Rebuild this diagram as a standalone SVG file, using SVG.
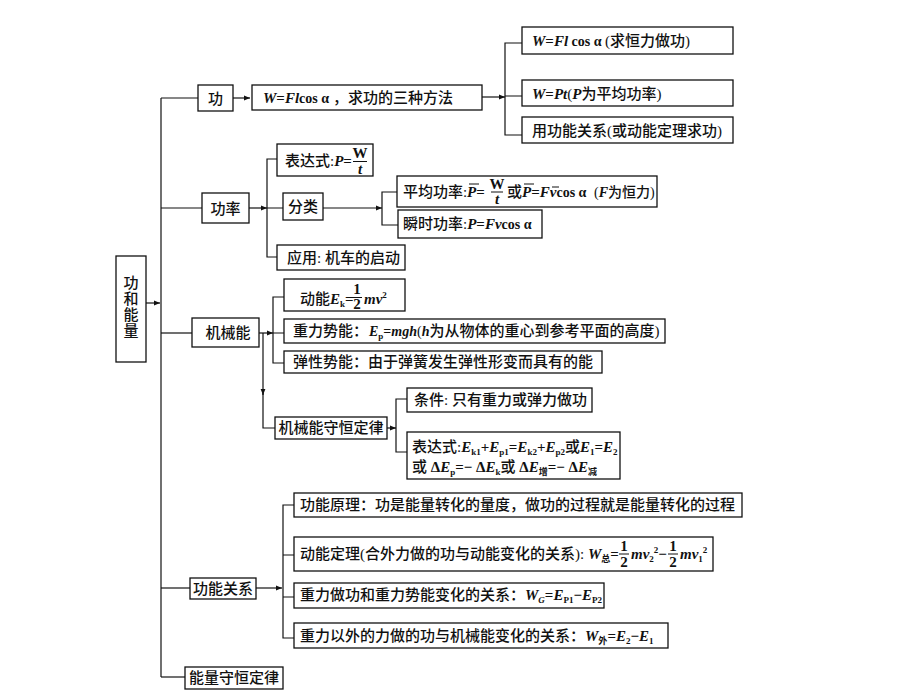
<svg xmlns="http://www.w3.org/2000/svg" width="920" height="690" viewBox="0 0 920 690">
<defs>
<marker id="ar" viewBox="0 0 6 6" refX="6" refY="3" markerWidth="6" markerHeight="6" markerUnits="userSpaceOnUse" orient="auto"><path d="M0,0.6 L6,3 L0,5.4 z" fill="#111"/></marker>
<style>
rect{fill:#fff;stroke:#111;stroke-width:1.3}
.c path{stroke:#111;stroke-width:1.2;fill:none}
.ov{stroke:#111;stroke-width:1}
text{font-family:"Liberation Serif","Noto Sans CJK SC",serif;font-size:15px;font-weight:500;fill:#111}
.i{font-style:italic;font-weight:bold}
.b{font-weight:bold}
.sb{font-size:9px;font-weight:bold}
.mid{text-anchor:middle}
</style>
</defs>
<rect x="0" y="0" width="920" height="690" style="fill:#fff;stroke:none"/>

<g id="connectors" class="c">
<path d="M161,98 V677"/>
<path d="M146,303 H160" marker-end="url(#ar)"/>
<path d="M161,98 H198"/>
<path d="M233,98 H250" marker-end="url(#ar)"/>
<path d="M482,97 H505" marker-end="url(#ar)"/>
<path d="M522,43 H505 V135 H522 M505,96 H522"/>
<path d="M161,208 H202"/>
<path d="M249,208 H267" marker-end="url(#ar)"/>
<path d="M277,159 H267 V257 H277 M267,208 H283"/>
<path d="M323,208 H382" marker-end="url(#ar)"/>
<path d="M397,192 H382 V225 H398"/>
<path d="M161,333 H192"/>
<path d="M259,333 H273" marker-end="url(#ar)"/>
<path d="M284,297 H273 V363 H284 M273,333 H284"/>
<path d="M263,333 V395" marker-end="url(#ar)"/>
<path d="M263,393 V428 H275"/>
<path d="M387,428 H396" marker-end="url(#ar)"/>
<path d="M407,399 H396 V452 H407"/>
<path d="M161,588 H190"/>
<path d="M256,588 H282" marker-end="url(#ar)"/>
<path d="M294,505 H283 V638 H294 M283,555 H294 M283,597 H294"/>
<path d="M161,677 H185"/>
</g>

<g id="n0">
<rect x="116" y="256" width="30" height="106"/>
<text class="mid" x="131" y="288" font-size="16">功</text>
<text class="mid" x="131" y="304" font-size="16">和</text>
<text class="mid" x="131" y="320" font-size="16">能</text>
<text class="mid" x="131" y="336" font-size="16">量</text>
</g>

<g id="n1">
<rect x="198" y="85" width="35" height="26"/>
<text class="mid" x="215.5" y="103.5">功</text>
</g>

<g id="n2">
<rect x="252" y="85" width="230" height="25"/>
<text x="263" y="103"><tspan class="i">W</tspan><tspan class="b">=</tspan><tspan class="i">Fl</tspan><tspan class="b" font-size="14">cos α</tspan><tspan x="333">，求功的三种方法</tspan></text>
</g>

<g id="n3">
<rect x="522" y="27" width="211" height="27"/>
<text x="532" y="46"><tspan class="i">W</tspan><tspan class="b">=</tspan><tspan class="i">Fl</tspan><tspan class="b" font-size="14"> cos α </tspan><tspan>(求恒力做功)</tspan></text>
</g>

<g id="n4">
<rect x="522" y="80" width="211" height="26"/>
<text x="532" y="99"><tspan class="i">W</tspan><tspan class="b">=</tspan><tspan class="i">Pt</tspan><tspan>(</tspan><tspan class="i">P</tspan><tspan>为平均功率)</tspan></text>
</g>

<g id="n5">
<rect x="522" y="117" width="211" height="26"/>
<text x="532" y="136">用功能关系(或动能定理求功)</text>
</g>

<g id="n6">
<rect x="202" y="193" width="47" height="30"/>
<text class="mid" x="225.5" y="213.5">功率</text>
</g>

<g id="n7">
<rect x="277" y="144" width="96" height="32"/>
<text x="285" y="166">表达式:<tspan class="i">P</tspan><tspan class="b">=</tspan></text>
<text class="mid b" x="360" y="158" font-size="14">W</text>
<line class="ov" x1="353" y1="161.5" x2="367" y2="161.5"/>
<text class="mid i" x="360" y="174" font-size="14">t</text>
</g>

<g id="n8">
<rect x="283" y="193" width="40" height="27"/>
<text class="mid" x="303" y="212">分类</text>
</g>

<g id="n9">
<rect x="277" y="245" width="128" height="25"/>
<text x="287" y="263">应用: 机车的启动</text>
</g>

<g id="n10">
<rect x="397" y="176" width="260" height="31"/>
<text x="403" y="197">平均功率:<tspan class="i" x="467">P</tspan><tspan class="b">=</tspan><tspan x="507">或</tspan><tspan class="i" x="522">P</tspan><tspan class="b">=</tspan><tspan class="i">F</tspan><tspan class="i">v</tspan><tspan class="b" font-size="14">cos α</tspan><tspan x="594" font-size="14">(</tspan><tspan class="i" font-size="14">F</tspan><tspan font-size="14">为恒力)</tspan></text>
<text class="mid b" x="497" y="189" font-size="13">W</text>
<line class="ov" x1="491" y1="192" x2="503" y2="192"/>
<text class="mid i" x="497" y="204" font-size="13">t</text>
<line class="ov" x1="469" y1="184" x2="479" y2="184"/>
<line class="ov" x1="524" y1="184" x2="534" y2="184"/>
<line class="ov" x1="552" y1="187" x2="559" y2="187"/>
</g>

<g id="n11">
<rect x="398" y="210" width="144" height="28"/>
<text x="403" y="229">瞬时功率:<tspan class="i">P</tspan><tspan class="b">=</tspan><tspan class="i">Fv</tspan><tspan class="b" font-size="14">cos α</tspan></text>
</g>

<g id="n12">
<rect x="192" y="318" width="67" height="29"/>
<text class="mid" x="228" y="338">机械能</text>
</g>

<g id="n13">
<rect x="284" y="279" width="121" height="32"/>
<text x="300" y="304">动能<tspan class="i">E</tspan><tspan class="sb" dy="3">k</tspan><tspan class="b" dy="-3">=</tspan><tspan class="i" x="364">mv</tspan><tspan class="sb" dy="-6">2</tspan></text>
<text class="mid b" x="357" y="294" font-size="14">1</text>
<line class="ov" x1="352" y1="297.5" x2="362" y2="297.5"/>
<text class="mid b" x="357" y="309" font-size="14">2</text>
</g>

<g id="n14">
<rect x="284" y="319" width="381" height="24"/>
<text x="293" y="336">重力势能：<tspan class="i" x="369" font-size="14">E</tspan><tspan class="sb" dy="3">p</tspan><tspan class="b" dy="-3" font-size="14">=</tspan><tspan class="i" font-size="14">mgh</tspan><tspan font-size="14">(</tspan><tspan class="i" font-size="14">h</tspan><tspan>为从物体的重心到参考平面的高度)</tspan></text>
</g>

<g id="n15">
<rect x="284" y="351" width="318" height="22"/>
<text x="293" y="367">弹性势能：由于弹簧发生弹性形变而具有的能</text>
</g>

<g id="n16">
<rect x="275" y="417" width="112" height="22"/>
<text class="mid" x="331" y="433">机械能守恒定律</text>
</g>

<g id="n17">
<rect x="407" y="388" width="185" height="24"/>
<text x="414" y="405">条件: 只有重力或弹力做功</text>
</g>

<g id="n18">
<rect x="407" y="432" width="213" height="47"/>
<text x="412" y="452">表达式:<tspan class="i">E</tspan><tspan class="sb" dy="3">k1</tspan><tspan class="b" dy="-3">+</tspan><tspan class="i">E</tspan><tspan class="sb" dy="3">p1</tspan><tspan class="b" dy="-3">=</tspan><tspan class="i">E</tspan><tspan class="sb" dy="3">k2</tspan><tspan class="b" dy="-3">+</tspan><tspan class="i">E</tspan><tspan class="sb" dy="3">p2</tspan><tspan dy="-3">或</tspan><tspan class="i">E</tspan><tspan class="sb" dy="3">1</tspan><tspan class="b" dy="-3">=</tspan><tspan class="i">E</tspan><tspan class="sb" dy="3">2</tspan></text>
<text x="412" y="472">或 <tspan class="b">Δ</tspan><tspan class="i">E</tspan><tspan class="sb" dy="3">p</tspan><tspan class="b" dy="-3">=− Δ</tspan><tspan class="i">E</tspan><tspan class="sb" dy="3">k</tspan><tspan dy="-3">或</tspan><tspan class="b"> Δ</tspan><tspan class="i">E</tspan><tspan class="sb" dy="3">增</tspan><tspan class="b" dy="-3">=− Δ</tspan><tspan class="i">E</tspan><tspan class="sb" dy="3">减</tspan></text>
</g>

<g id="n19">
<rect x="190" y="578" width="66" height="21"/>
<text class="mid" x="223" y="594">功能关系</text>
</g>

<g id="n20">
<rect x="294" y="493" width="448" height="24"/>
<text x="300" y="510">功能原理：功是能量转化的量度，做功的过程就是能量转化的过程</text>
</g>

<g id="n21">
<rect x="294" y="537" width="419" height="34"/>
<text x="300" y="559">动能定理(合外力做的功与动能变化的关系):<tspan class="i" x="588">W</tspan><tspan class="sb" dy="3">总</tspan><tspan class="b" dy="-3">=</tspan><tspan class="i" x="631">mv</tspan><tspan class="sb" dy="3">2</tspan><tspan class="sb" dy="-9">2</tspan><tspan class="b" dy="6">−</tspan><tspan class="i" x="680">mv</tspan><tspan class="sb" dy="3">1</tspan><tspan class="sb" dy="-9">2</tspan></text>
<text class="mid b" x="624" y="551" font-size="14">1</text>
<line class="ov" x1="619" y1="554" x2="629" y2="554"/>
<text class="mid b" x="624" y="567" font-size="14">2</text>
<text class="mid b" x="673" y="551" font-size="14">1</text>
<line class="ov" x1="668" y1="554" x2="678" y2="554"/>
<text class="mid b" x="673" y="567" font-size="14">2</text>
</g>

<g id="n22">
<rect x="294" y="583" width="310" height="25"/>
<text x="300" y="600">重力做功和重力势能变化的关系：<tspan class="i">W</tspan><tspan class="sb" dy="3" font-style="italic">G</tspan><tspan class="b" dy="-3">=</tspan><tspan class="i">E</tspan><tspan class="sb" dy="3">P1</tspan><tspan class="b" dy="-3">−</tspan><tspan class="i">E</tspan><tspan class="sb" dy="3">P2</tspan></text>
</g>

<g id="n23">
<rect x="294" y="623" width="374" height="25"/>
<text x="300" y="641">重力以外的力做的功与机械能变化的关系：<tspan class="i">W</tspan><tspan class="sb" dy="3">外</tspan><tspan class="b" dy="-3">=</tspan><tspan class="i">E</tspan><tspan class="sb" dy="3">2</tspan><tspan class="b" dy="-3">−</tspan><tspan class="i">E</tspan><tspan class="sb" dy="3">1</tspan></text>
</g>

<g id="n24">
<rect x="185" y="667" width="98" height="22"/>
<text class="mid" x="234" y="683">能量守恒定律</text>
</g>
</svg>
